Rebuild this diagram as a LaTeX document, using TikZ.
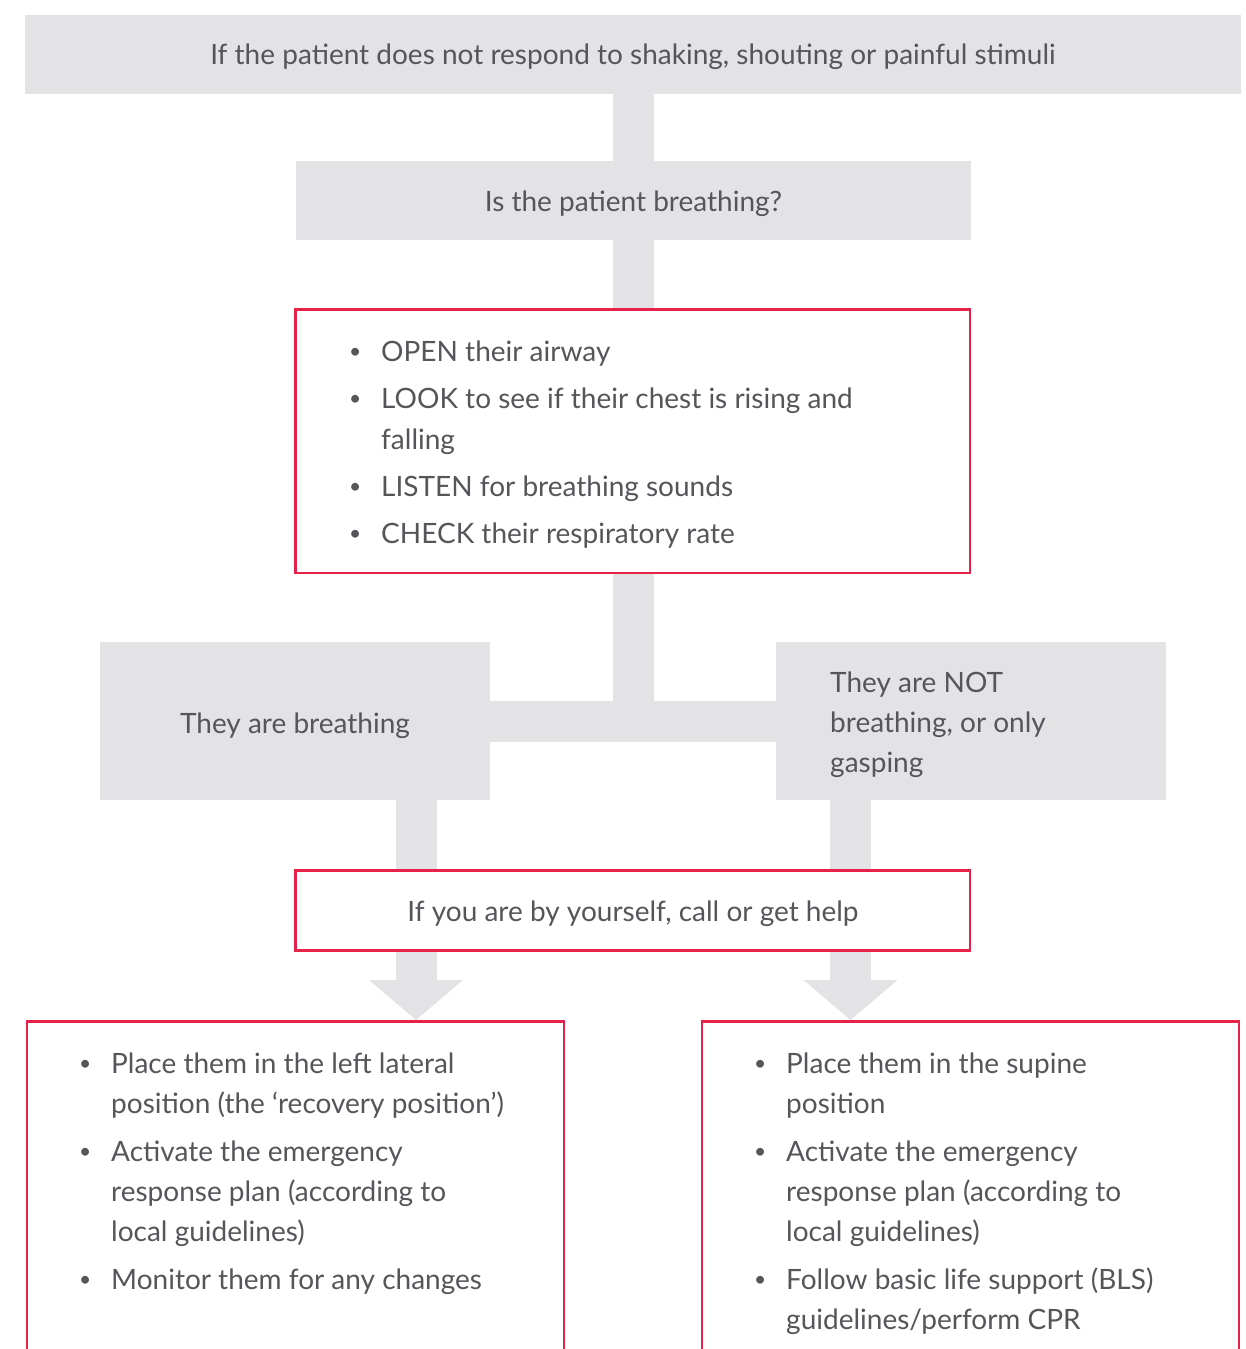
\documentclass[tikz,border=0pt]{standalone}
\usepackage{fontspec}
\setmainfont{Lato}
\usetikzlibrary{backgrounds}
\definecolor{boxgray}{HTML}{E3E3E5}
\definecolor{redline}{HTML}{E5234A}
\definecolor{txtgray}{HTML}{55565A}
\newcommand{\bul}{\makebox[0pt][r]{\raisebox{3pt}{\fontsize{21}{21}\selectfont •}\hspace{20pt}}}
\newcommand{\fsA}{\fontsize{28}{41}\selectfont}
\newcommand{\fsB}{\fontsize{28}{40}\selectfont}
\newcommand{\firstline}{\rule{0pt}{32pt}}
\begin{document}
\begin{tikzpicture}[x=1pt,y=-1pt,
  graybox/.style={fill=boxgray, draw=none, inner sep=0pt, outer sep=0pt, anchor=north west},
  redbox/.style={fill=white, draw=redline, line width=2.5pt, inner sep=0pt, outer sep=0pt, anchor=north west},
  label/.style={text=txtgray, font=\fsB, inner sep=0pt, anchor=base},
  listA/.style={text=txtgray, font=\fsA, inner sep=0pt, align=left, anchor=north west},
  listB/.style={text=txtgray, font=\fsB, inner sep=0pt, align=left, anchor=north west},
  conn/.style={draw=boxgray, line width=41pt},
  arrowhead/.style={fill=boxgray, draw=none}]
\useasboundingbox (0,0) rectangle (1246,1349);
\clip (0,0) rectangle (1246,1349);

% boxes
\node[graybox, minimum width=1216pt, minimum height=79pt] (start) at (25,15) {};
\node[graybox, minimum width=675pt, minimum height=79pt] (q) at (296,161) {};
\node[redbox, minimum width=674.5pt, minimum height=263.5pt] (check) at (295.5,309.5) {};
\node[graybox, minimum width=390pt, minimum height=158pt] (yes) at (100,642) {};
\node[graybox, minimum width=390pt, minimum height=158pt] (no) at (776,642) {};
\node[redbox, minimum width=674.5pt, minimum height=80pt] (help) at (295.5,870.5) {};
\node[redbox, minimum width=537pt, minimum height=400pt] (actL) at (27,1021.3) {};
\node[redbox, minimum width=537pt, minimum height=400pt] (actR) at (702,1021.3) {};

% texts
\node[label] (tstart) at (633,64) {If the patient does not respond to shaking, shouting or painful stimuli};
\node[label] (tq) at (633.5,211) {Is the patient breathing?};
\node[listA] (tcheck) at (381,329) {\firstline\bul OPEN their airway\\[6pt]
  \bul LOOK to see if their chest is rising and\\
  falling\\[6pt]
  \bul LISTEN for breathing sounds\\[6pt]
  \bul CHECK their respiratory rate};
\node[label] (tyes) at (295,733) {They are breathing};
\node[listB] (tno) at (830,660) {\firstline They are NOT\\ breathing, or only\\ gasping};
\node[label] (thelp) at (633,921) {If you are by yourself, call or get help};
\node[listB] (tactL) at (111,1041) {\firstline\bul Place them in the left lateral\\
  position (the ‘recovery position’)\\[8pt]
  \bul Activate the emergency\\
  response plan (according to\\
  local guidelines)\\[8pt]
  \bul Monitor them for any changes};
\node[listB] (tactR) at (786,1041) {\firstline\bul Place them in the supine\\
  position\\[8pt]
  \bul Activate the emergency\\
  response plan (according to\\
  local guidelines)\\[8pt]
  \bul Follow basic life support (BLS)\\
  guidelines/perform CPR};

% connectors
\coordinate (ltip) at (416,1020);
\coordinate (rtip) at (850.5,1020);
\coordinate (lbase) at (416,981);
\coordinate (rbase) at (850.5,981);
\begin{scope}[on background layer]
\draw[conn] (start.south -| q.north) -- (q.north);
\draw[conn] (q.south) -- (q.south |- check.north);
\draw[conn] (q.south |- check.south) -- (q.south |- yes.east);
\draw[conn] (yes.east) -- (no.west);
\draw[conn] (yes.south -| ltip) -- (lbase);
\draw[conn] (no.south -| rtip) -- (rbase);
\fill[arrowhead] (ltip) -- ++(-47,-40) -- ++(94,0) -- cycle;
\fill[arrowhead] (rtip) -- ++(-47,-40) -- ++(94,0) -- cycle;
\end{scope}
\end{tikzpicture}
\end{document}
